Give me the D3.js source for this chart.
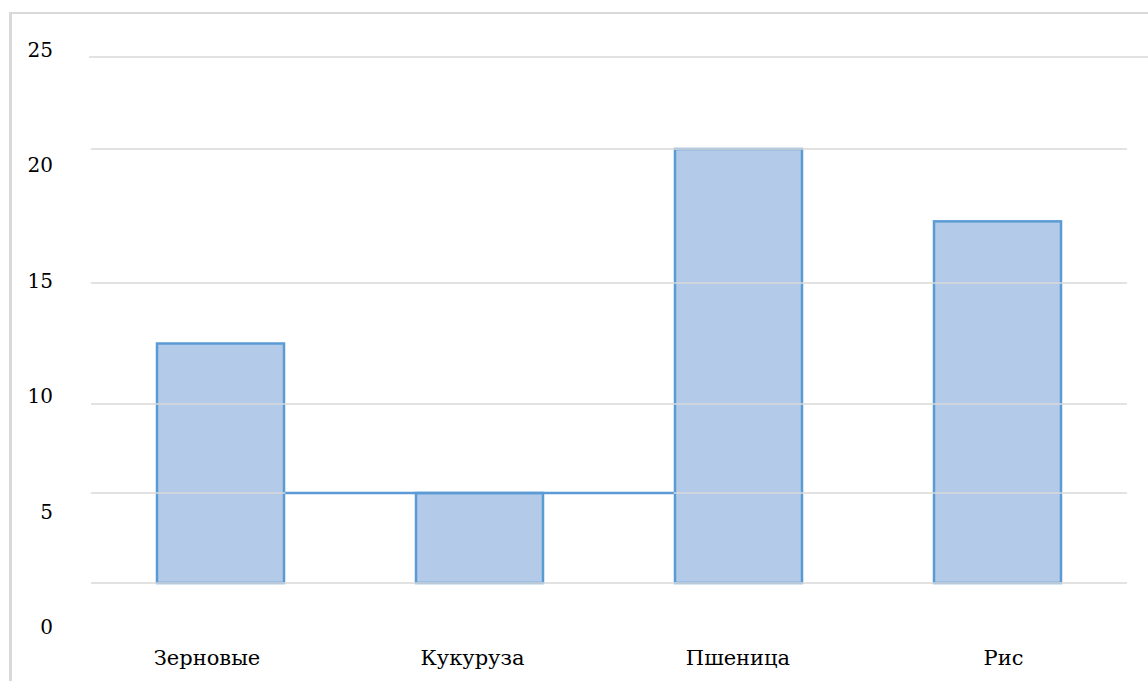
<!DOCTYPE html>
<html>
<head>
<meta charset="utf-8">
<script src="https://cdn.jsdelivr.net/npm/d3@7"></script>
<style>
  html, body { margin: 0; padding: 0; background: #fff; }
  svg { display: block; }
</style>
</head>
<body>
<svg id="chart" width="1148" height="681"></svg>
<script>
// ---- data ----
const categories = ["Зерновые", "Кукуруза", "Пшеница", "Рис"];
const values = [12.5, 5, 20, 17.3];
const yTicks = [0, 5, 10, 15, 20, 25];
const yTickLabels = ["0", "5", "10", "15", "20", "25"];
const refLineValue = 5; // blue connector line between first and third bar
const refLineFrom = "Зерновые";
const refLineTo = "Пшеница";

// ---- layout ----
const W = 1148, H = 681;
const plotLeft = 91, plotRight = 1127;
const svg = d3.select("#chart");
const fontFamily = "'DejaVu Serif', 'Liberation Serif', serif";

// frame
svg.append("line").attr("x1", 10.5).attr("x2", 10.5).attr("y1", 12).attr("y2", H)
  .attr("stroke", "#d9d9d9").attr("stroke-width", 3);
svg.append("line").attr("x1", 9).attr("x2", W).attr("y1", 13).attr("y2", 13)
  .attr("stroke", "#d9d9d9").attr("stroke-width", 2);

// scales (the reference uses uneven gridline spacing)
const y = d3.scaleLinear()
  .domain(yTicks)
  .range([583, 493, 404, 283, 149, 57]);

const x = d3.scaleBand()
  .domain(categories)
  .range([plotLeft, plotRight])
  .paddingInner(0.5)
  .paddingOuter(0.25);

// label scales (labels are evenly spaced, independent of gridlines)
const yLabel = d3.scaleLinear().domain([0, 25]).range([627, 50]);
const xLabel = d3.scalePoint().domain(categories).range([206.5, 1003]);

// bars
const barStroke = 2.5;
svg.append("g").selectAll("rect")
  .data(categories.map((c, i) => ({ c, v: values[i] })))
  .join("rect")
  .attr("x", d => x(d.c) + barStroke / 2)
  .attr("width", x.bandwidth() - barStroke)
  .attr("y", d => y(d.v))
  .attr("height", d => y(0) - y(d.v))
  .attr("fill", "#b3cbe8")
  .attr("stroke", "#5b9bd5")
  .attr("stroke-width", barStroke);

// gridlines (on top of bar fill)
svg.append("g").selectAll("line")
  .data(yTicks)
  .join("line")
  .attr("x1", (d, i) => i === yTicks.length - 1 ? 89 : plotLeft)
  .attr("x2", (d, i) => i === yTicks.length - 1 ? W : plotRight)
  .attr("y1", d => y(d)).attr("y2", d => y(d))
  .attr("stroke", "#d9d9d9")
  .attr("stroke-width", 1.5);

// blue connector line
svg.append("line")
  .attr("x1", x(refLineFrom) + x.bandwidth())
  .attr("x2", x(refLineTo))
  .attr("y1", y(refLineValue)).attr("y2", y(refLineValue))
  .attr("stroke", "#5b9bd5")
  .attr("stroke-width", 2.5);

// y axis labels
const yAxis = d3.axisLeft(yLabel)
  .tickValues(yTicks)
  .tickFormat((d, i) => yTickLabels[i])
  .tickSize(0).tickPadding(0);
const gy = svg.append("g").attr("transform", "translate(53,0)").call(yAxis);
gy.select(".domain").remove();
gy.selectAll("text").attr("font-family", fontFamily).attr("font-size", 20).attr("fill", "#000");

// x axis labels
const xAxis = d3.axisBottom(xLabel).tickSize(0).tickPadding(0);
const gx = svg.append("g").attr("transform", "translate(0,650)").call(xAxis);
gx.select(".domain").remove();
gx.selectAll("text").attr("font-family", fontFamily).attr("font-size", 21).attr("fill", "#000");
</script>
</body>
</html>
